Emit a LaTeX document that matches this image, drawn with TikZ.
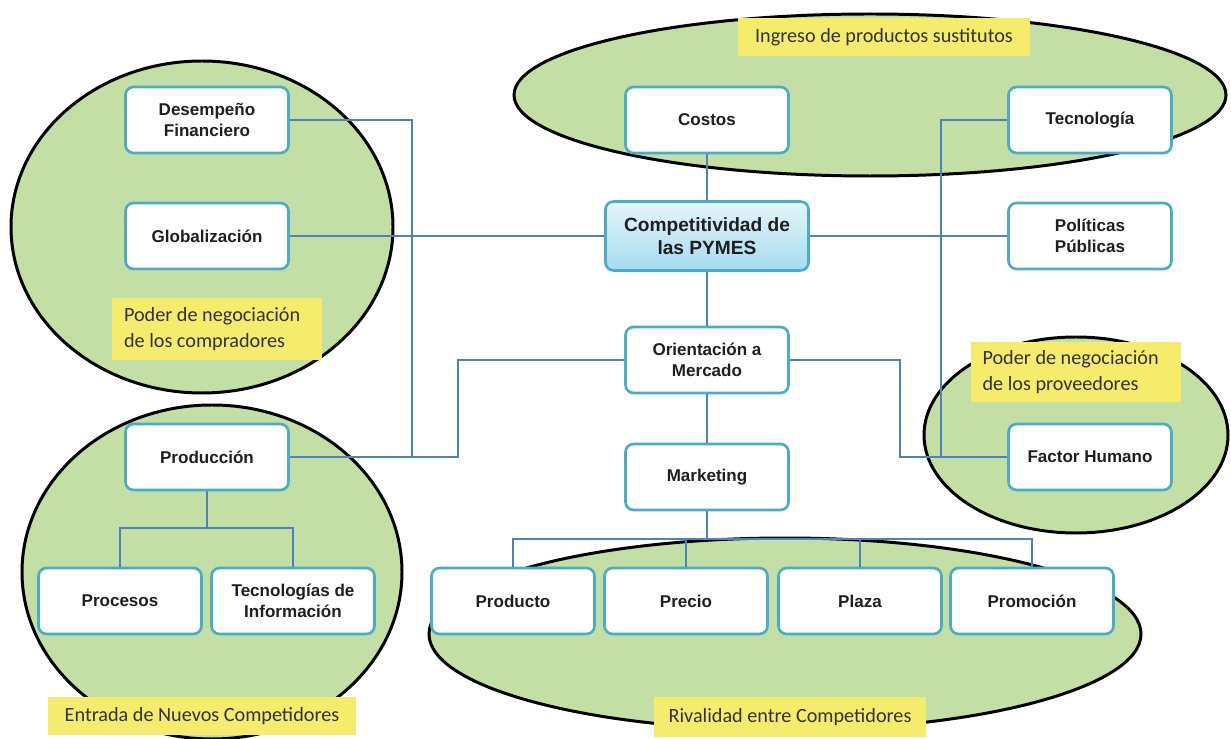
\documentclass[tikz,border=0pt]{standalone}
\usepackage{fontspec}
\setmainfont{Liberation Sans}
\newfontfamily\tagfont{Carlito}
\definecolor{linkblue}{HTML}{4F81BD}
\definecolor{boxline}{HTML}{4BACC6}
\definecolor{forcegreen}{HTML}{C4DFA6}
\definecolor{tagyellow}{HTML}{F6EC6B}
\definecolor{hubtop}{HTML}{E6F5FB}
\definecolor{hubbot}{HTML}{A6DBEF}

\begin{document}
\begin{tikzpicture}[x=0.02cm,y=-0.02cm]
\useasboundingbox (0,0) rectangle (1231,739);

% the five forces
\begin{scope}[force/.style={draw=black,line width=1.7pt,fill=forcegreen}]
    \path[force] (202,227) ellipse [x radius=191, y radius=166];
    \path[force] (212,572) ellipse [x radius=190, y radius=167];
    \path[force] (870,95) ellipse [x radius=356, y radius=81];
    \path[force] (1076,435) ellipse [x radius=152, y radius=98];
    \path[force] (785,634) ellipse [x radius=356, y radius=96];
\end{scope}

\begin{scope}[every node/.style={draw=boxline,line width=1.5pt,fill=white,rounded corners=0.16cm,
              minimum width=3.26cm,minimum height=1.32cm,align=center,inner sep=2pt,
              font=\bfseries\fontsize{9.7}{11.6}\selectfont,text=black!88}]
    \node (fin) at (207,120) {Desempeño\\Financiero};
    \node (glob) at (207,236) {Globalización};
    \node (prod) at (207,457) {Producción};
    \node (proc) at (120,601) {Procesos};
    \node (tic) at (293,601) {Tecnologías de\\Información};
    \node (cost) at (707,120) {Costos};
    \node (tec) at (1090,120) {Tecnología};
    \node (pol) at (1090,236) {Políticas\\Públicas};
    \node (orient) at (707,360) {Orientación a\\Mercado};
    \node (mkt) at (707,477) {Marketing};
    \node (hum) at (1090,457) {Factor Humano};
    \node (prdto) at (513,601) {Producto};
    \node (prec) at (686,601) {Precio};
    \node (plaza) at (860,601) {Plaza};
    \node (promo) at (1032,601) {Promoción};
    \node (pyme)[top color=hubtop,bottom color=hubbot,minimum width=4.06cm,minimum height=1.38cm,
                 font=\bfseries\fontsize{10.9}{13}\selectfont] at (707,236) {Competitividad de\\las PYMES};
\end{scope}

% junctions
\coordinate (j1) at (412,457);
\coordinate (j2) at (458,457);
\coordinate (j3) at (941,120);
\coordinate (j4) at (900,360);
\coordinate (pbus) at (207,528);
\coordinate (mbus) at (707,539);

\begin{scope}[link/.style={draw=linkblue,line width=1.1pt}]
    \path[link] (fin.east) -| (j1);
    \path[link] (prod.east) -- (j2) |- (orient.west);
    \path[link] (glob.east) -- (pyme.west);
    \path[link] (cost.south) -- (pyme.north);
    \path[link] (pyme.south) -- (orient.north);
    \path[link] (pyme.east) -- (pol.west);
    \path[link] (tec.west) -- (j3) |- (hum.west);
    \path[link] (orient.east) -- (j4) |- (hum.west);
    \path[link] (orient.south) -- (mkt.north);
    \path[link] (prod.south) -- (pbus);
    \path[link] (pbus) -| (proc.north);
    \path[link] (pbus) -| (tic.north);
    \path[link] (mkt.south) -- (mbus);
    \path[link] (mbus) -| (prdto.north);
    \path[link] (mbus) -| (prec.north);
    \path[link] (mbus) -| (plaza.north);
    \path[link] (mbus) -| (promo.north);
\end{scope}

\begin{scope}[every node/.style={fill=tagyellow,inner ysep=2pt,font=\tagfont\fontsize{11.5}{14.5}\selectfont,text=black!80}]
    \node (buyers)[align=flush left,text width=3.72cm,inner xsep=0.24cm,minimum height=1.24cm] at (217,329)
        {Poder de negociación\\de los compradores};
    \node (suppliers)[align=flush left,text width=3.74cm,inner xsep=0.24cm,minimum height=1.22cm] at (1076,372)
        {Poder de negociación\\de los proveedores};
    \node (subst)[minimum width=5.86cm,minimum height=0.76cm] at (884,37) {Ingreso de productos sustitutos};
    \node (entrants)[minimum width=6.18cm,minimum height=0.78cm] at (202,716) {Entrada de Nuevos Competidores};
    \node (rivals)[minimum width=5.46cm,minimum height=0.8cm] at (790,717) {Rivalidad entre Competidores};
\end{scope}
\end{tikzpicture}
\end{document}
